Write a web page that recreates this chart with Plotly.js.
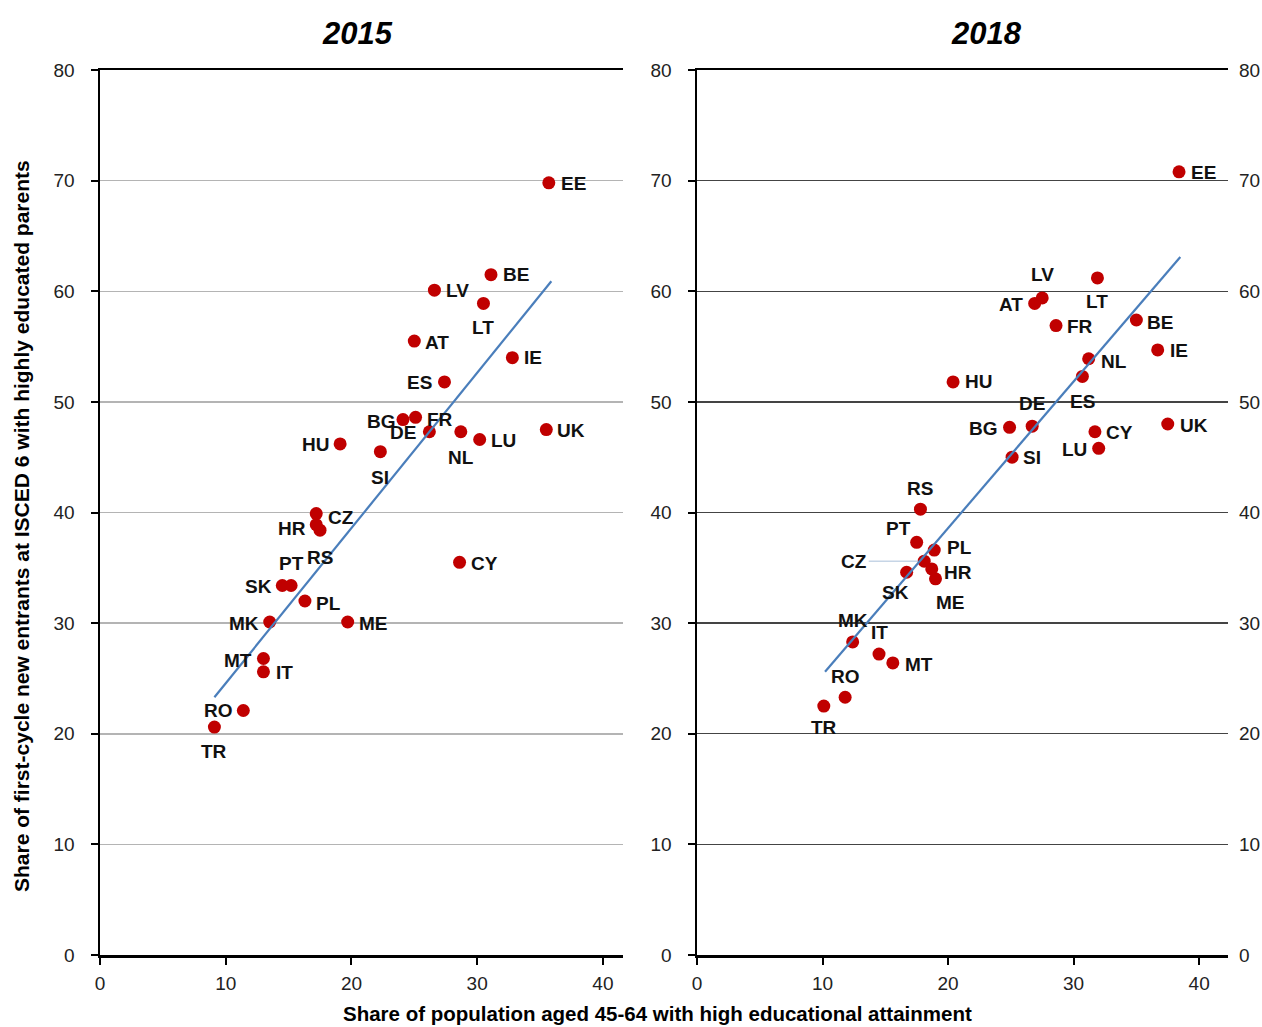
<!DOCTYPE html>
<html>
<head>
<meta charset="utf-8">
<script src="https://cdn.plot.ly/plotly-3.0.1.min.js"></script>
<style>html,body{margin:0;padding:0;background:#fff;}#chart{width:1262px;height:1027px;}</style>
</head>
<body>
<div id="chart"></div>
<script>
// ---- Data ----
const codes2015 = ['EE','BE','LV','LT','AT','IE','ES','BG','FR','DE','NL','LU','UK','HU','SI','CY','CZ','HR','RS','PT','SK','PL','MK','ME','MT','IT','RO','TR'];
const x2015 = [35.7,31.1,26.6,30.5,25.0,32.8,27.4,24.1,25.1,26.2,28.7,30.2,35.5,19.1,22.3,28.6,17.2,17.2,17.5,15.2,14.5,16.3,13.5,19.7,13.0,13.0,11.4,9.1];
const y2015 = [69.8,61.5,60.1,58.9,55.5,54.0,51.8,48.4,48.6,47.3,47.3,46.6,47.5,46.2,45.5,35.5,39.9,38.9,38.4,33.4,33.4,32.0,30.1,30.1,26.8,25.6,22.1,20.6];

const codes2018 = ['EE','LT','LV','AT','FR','BE','IE','NL','ES','HU','BG','DE','CY','LU','UK','SI','RS','PT','PL','CZ','HR','ME','SK','MK','IT','MT','RO','TR'];
const x2018 = [38.4,31.9,27.5,26.9,28.6,35.0,36.7,31.2,30.7,20.4,24.9,26.7,31.7,32.0,37.5,25.1,17.8,17.5,18.9,18.1,18.7,19.0,16.7,12.4,14.5,15.6,11.8,10.1];
const y2018 = [70.8,61.2,59.4,58.9,56.9,57.4,54.7,53.9,52.3,51.8,47.7,47.8,47.3,45.8,48.0,45.0,40.3,37.3,36.6,35.6,34.9,34.0,34.6,28.3,27.2,26.4,23.3,22.5];

// Trend line end points
const trendX2015 = [9.1, 35.9];
const trendY2015 = [23.3, 60.9];
const trendX2018 = [10.2, 38.5];
const trendY2018 = [25.6, 63.1];

const yTicks = [0,10,20,30,40,50,60,70,80];
const xTicks = [0,10,20,30,40];
const panelTitles = ['2015','2018'];
const xTitle = 'Share of population aged 45-64 with high educational attainment';
const yTitle = 'Share of first-cycle new entrants at ISCED 6 with highly educated parents';

// ---- Label placement (style only: pixel offsets of labels from points) ----
const off2015 = {EE:[25,1],BE:[25,0],LV:[23,0],LT:[0,24],AT:[23,1],IE:[21,0],ES:[-25,1],BG:[-21,2],FR:[24,2],DE:[-26,1],NL:[0,26],LU:[24,1],UK:[25,1],HU:[-25,1],SI:[0,26],CY:[25,1],CZ:[25,4],HR:[-24,4],RS:[0,27],PT:[0,-22],SK:[-24,1],PL:[24,2],MK:[-26,1],ME:[26,1],MT:[-25,2],IT:[21,1],RO:[-25,0],TR:[0,24]};
const off2018 = {EE:[24,1],LT:[0,24],LV:[0,-23],AT:[-24,1],FR:[24,1],BE:[24,2],IE:[21,1],NL:[25,3],ES:[0,25],HU:[25,0],BG:[-26,1],DE:[0,-23],CY:[25,1],LU:[-24,1],UK:[26,1],SI:[20,0],RS:[0,-21],PT:[-18,-14],PL:[25,-3],HR:[26,4],ME:[15,24],SK:[-11,20],MK:[0,-21],IT:[0,-22],MT:[26,2],RO:[0,-21],TR:[0,21]};
const leader2018 = {CZ:-70};

const W = 1262, H = 1027;
const RED = '#c00000', BLUE = '#4a7ebb';
const tickFont = {family:'"Liberation Sans", Arial, sans-serif', size:19, color:'#222'};
const labelFont = {family:'"Liberation Sans", Arial, sans-serif', size:19, color:'#111', weight:700};

const traces = [
  {x:x2015, y:y2015, xaxis:'x', yaxis:'y', mode:'markers', type:'scatter', marker:{color:RED, size:13}, hoverinfo:'skip'},
  {x:trendX2015, y:trendY2015, xaxis:'x', yaxis:'y', mode:'lines', type:'scatter', line:{color:BLUE, width:2.2}, hoverinfo:'skip'},
  {x:x2018, y:y2018, xaxis:'x2', yaxis:'y2', mode:'markers', type:'scatter', marker:{color:RED, size:13}, hoverinfo:'skip'},
  {x:trendX2018, y:trendY2018, xaxis:'x2', yaxis:'y2', mode:'lines', type:'scatter', line:{color:BLUE, width:2.2}, hoverinfo:'skip'},
  {x:[null], y:[null], xaxis:'x2', yaxis:'y3', mode:'markers', type:'scatter', showlegend:false, hoverinfo:'skip'}
];

const annotations = [];
function addLabels(codes, xs, ys, offs, xr, yr, leaders) {
  codes.forEach((c, i) => {
    if (leaders && leaders[c] !== undefined) {
      annotations.push({x:xs[i], y:ys[i], xref:xr, yref:yr, text:c, showarrow:true, arrowhead:0,
        arrowwidth:1, arrowcolor:'#a9bfd9', ax:leaders[c], ay:0, standoff:6, font:labelFont});
      return;
    }
    const o = offs[c] || [20,0];
    annotations.push({x:xs[i], y:ys[i], xref:xr, yref:yr, text:c, showarrow:false,
      xshift:o[0], yshift:-o[1], font:labelFont, xanchor:'center', yanchor:'middle'});
  });
}
addLabels(codes2015, x2015, y2015, off2015, 'x', 'y');
addLabels(codes2018, x2018, y2018, off2018, 'x2', 'y2', leader2018);

const titleFont = {family:'"Liberation Sans", Arial, sans-serif', size:31, color:'#000', weight:700, style:'italic'};
annotations.push({xref:'paper', yref:'paper', x:357/W, y:1-33/H, text:panelTitles[0], showarrow:false, font:titleFont, xanchor:'center', yanchor:'middle'});
annotations.push({xref:'paper', yref:'paper', x:986/W, y:1-33/H, text:panelTitles[1], showarrow:false, font:titleFont, xanchor:'center', yanchor:'middle'});
annotations.push({xref:'paper', yref:'paper', x:658/W, y:1-1013/H, text:xTitle, showarrow:false,
  font:{family:'"Liberation Sans", Arial, sans-serif', size:20.5, color:'#000', weight:700}, xanchor:'center', yanchor:'middle'});
annotations.push({xref:'paper', yref:'paper', x:21/W, y:1-526/H, text:yTitle, showarrow:false, textangle:-90,
  font:{family:'"Liberation Sans", Arial, sans-serif', size:21, color:'#000', weight:700}, xanchor:'center', yanchor:'middle'});

const yDom = [1-955/H, 1-70/H];
const baseX = {tickvals:xTicks, ticks:'outside', ticklen:7, tickwidth:2, tickcolor:'#000', showline:true, linewidth:2.5,
  linecolor:'#000', mirror:true, showgrid:false, zeroline:false, tickfont:tickFont, fixedrange:true, ticklabelstandoff:3};
const baseY = {tickvals:yTicks, range:[0,80], ticks:'outside', ticklen:7, tickwidth:2, tickcolor:'#000', showline:true,
  linewidth:2.5, linecolor:'#000', zeroline:false, tickfont:tickFont, domain:yDom, fixedrange:true, ticklabelstandoff:12};

const layout = {
  width:W, height:H, margin:{l:0,r:0,t:0,b:0}, paper_bgcolor:'#fff', plot_bgcolor:'rgba(0,0,0,0)', showlegend:false,
  xaxis: Object.assign({}, baseX, {domain:[100/W, 623/W], range:[0,41.6], anchor:'y'}),
  yaxis: Object.assign({}, baseY, {anchor:'x', showgrid:true, gridcolor:'#b4b4b4', gridwidth:1.5}),
  xaxis2: Object.assign({}, baseX, {domain:[697/W, 1228/W], range:[0,42.3], anchor:'y2'}),
  yaxis2: Object.assign({}, baseY, {anchor:'x2', showgrid:true, gridcolor:'#444', gridwidth:1.3}),
  yaxis3: {overlaying:'y2', side:'right', anchor:'x2', range:[0,80], tickvals:yTicks, ticks:'', showline:false,
    showgrid:false, zeroline:false, tickfont:tickFont, fixedrange:true, ticklabelstandoff:10},
  annotations: annotations
};

Plotly.newPlot('chart', traces, layout, {displayModeBar:false, staticPlot:true});
</script>
</body>
</html>
